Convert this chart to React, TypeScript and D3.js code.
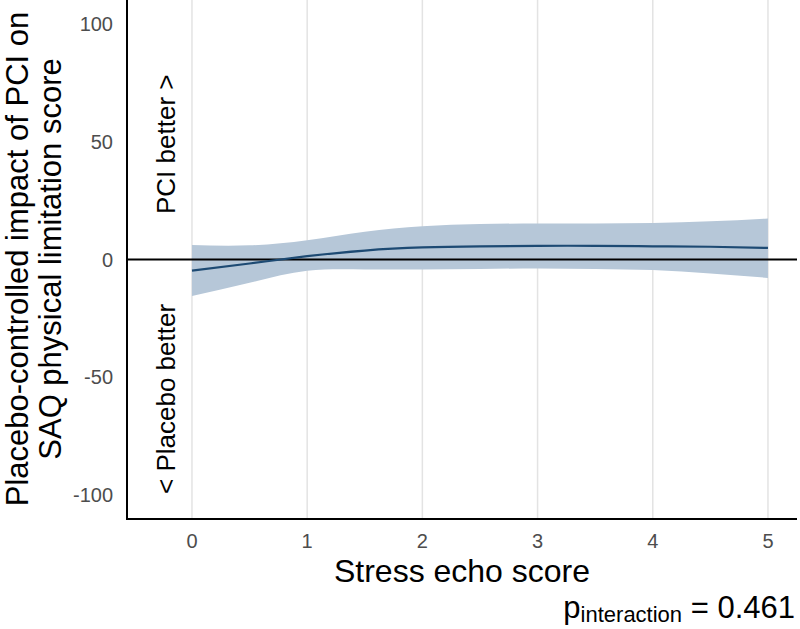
import React from "react";
import * as d3 from "d3";

const xs = [0, 0.5, 1, 1.5, 2, 2.5, 3, 3.5, 4, 4.5, 5];
const fit = [-4.7, -1.7, 1.4, 3.8, 5.1, 5.6, 5.8, 5.8, 5.6, 5.4, 4.9];
const upper = [6.1, 6.0, 8.2, 11.8, 14.1, 15.0, 15.3, 15.3, 15.5, 16.2, 17.4];
const lower = [-15.5, -9.9, -4.8, -4.2, -4.2, -4.0, -3.8, -4.0, -4.5, -5.9, -7.8];
const xTicks = [0, 1, 2, 3, 4, 5];
const yTicks = [-100, -50, 0, 50, 100];

const W = 800;
const H = 629;
const left = 127;
const right = 797;
const top = 0;
const bottom = 519;

export default function App() {
  const x = d3.scaleLinear().domain([-0.564, 5.252]).range([left, right]);
  const y = d3.scaleLinear().domain([-110, 110]).range([bottom, top]);
  const pts = xs.map((v, i) => ({ x: v, f: fit[i], u: upper[i], l: lower[i] }));
  const area = d3
    .area<any>()
    .x((d) => x(d.x))
    .y0((d) => y(d.l))
    .y1((d) => y(d.u))
    .curve(d3.curveNatural);
  const line = d3
    .line<any>()
    .x((d) => x(d.x))
    .y((d) => y(d.f))
    .curve(d3.curveNatural);
  const font = "'Liberation Sans', Arial, sans-serif";
  return (
    <svg
      width={W}
      height={H}
      style={{ position: "absolute", left: 0, top: 0, background: "#fff" }}
      fontFamily={font}
    >
      {xTicks.map((t) => (
        <line
          key={"g" + t}
          x1={x(t)}
          x2={x(t)}
          y1={top}
          y2={bottom}
          stroke="#e3e3e3"
          strokeWidth={1.5}
        />
      ))}
      <path d={area(pts) || ""} fill="#b6c7d8" />
      <line x1={left} x2={right} y1={y(0)} y2={y(0)} stroke="#000" strokeWidth={2} />
      <path d={line(pts) || ""} fill="none" stroke="#1d4a73" strokeWidth={2.2} />
      <line x1={left} x2={left} y1={top} y2={bottom + 1} stroke="#000" strokeWidth={2} />
      <line x1={left - 1} x2={right} y1={bottom} y2={bottom} stroke="#000" strokeWidth={2} />
      {yTicks.map((t) => (
        <text
          key={"y" + t}
          x={113}
          y={y(t)}
          dy="0.35em"
          textAnchor="end"
          fontSize={20}
          fill="#4d4d4d"
        >
          {t}
        </text>
      ))}
      {xTicks.map((t) => (
        <text
          key={"x" + t}
          x={x(t)}
          y={541}
          dy="0.35em"
          textAnchor="middle"
          fontSize={20}
          fill="#4d4d4d"
        >
          {t}
        </text>
      ))}
      <text x={462} y={582} textAnchor="middle" fontSize={32} fill="#000">
        Stress echo score
      </text>
      <g transform="translate(28,259) rotate(-90)">
        <text x={0} y={0} textAnchor="middle" fontSize={31} fill="#000">
          Placebo-controlled impact of PCI on
        </text>
      </g>
      <g transform="translate(61,259) rotate(-90)">
        <text x={0} y={0} textAnchor="middle" fontSize={31} fill="#000">
          SAQ physical limitation score
        </text>
      </g>
      <g transform="translate(175,214) rotate(-90)">
        <text x={0} y={0} textAnchor="start" fontSize={26} fill="#000">
          PCI better &gt;
        </text>
      </g>
      <g transform="translate(175,494) rotate(-90)">
        <text x={0} y={0} textAnchor="start" fontSize={26} fill="#000">
          &lt; Placebo better
        </text>
      </g>
      <text x={795} y={618} textAnchor="end" fontSize={31} fill="#000">
        p
        <tspan fontSize={22} dy={4}>interaction</tspan>
        <tspan dy={-4}> = 0.461</tspan>
      </text>
    </svg>
  );
}
